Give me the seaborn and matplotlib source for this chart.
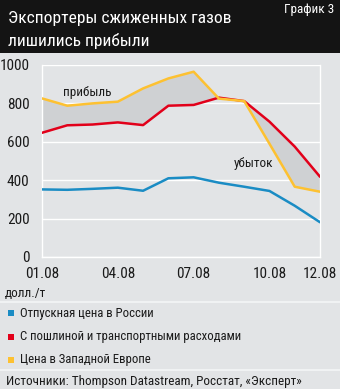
import matplotlib
matplotlib.use("Agg")
import matplotlib.pyplot as plt
from matplotlib import font_manager
import seaborn as sns
import pandas as pd

# Monthly prices, USD per tonne
months = ["01.08", "02.08", "03.08", "04.08", "05.08", "06.08",
          "07.08", "08.08", "09.08", "10.08", "11.08", "12.08"]
russia = [352, 350, 355, 361, 345, 410, 415, 387, 366, 344, 267, 181]
with_duty = [647, 686, 690, 701, 687, 788, 792, 830, 812, 705, 575, 418]
west_europe = [826, 788, 800, 809, 878, 930, 965, 825, 812, 590, 366, 340]
tick_labels = ["01.08", "04.08", "07.08", "10.08", "12.08"]
tick_index = [0, 3, 6, 9, 11]
series_names = ["Отпускная цена в России",
                "С пошлиной и транспортными расходами",
                "Цена в Западной Европе"]

BG = "#e2e4e6"
BLUE = "#1a8cc4"
RED = "#e2001a"
YELLOW = "#fdc131"
FILL = "#cfd1d3"
INK = "#1a1a1a"

sns.set_theme(style="white")
installed = {f.name for f in font_manager.fontManager.ttflist}
families = [f for f in ["Roboto Condensed", "Fira Sans Condensed", "Archivo Narrow"]
            if f in installed] + ["DejaVu Sans"]
plt.rcParams["font.family"] = families

df = pd.DataFrame({
    "x": list(range(len(months))) * 3,
    "value": russia + with_duty + west_europe,
    "series": [series_names[0]] * 12 + [series_names[1]] * 12 + [series_names[2]] * 12,
})

fig = plt.figure(figsize=(3.4, 3.89), dpi=100)
fig.patch.set_facecolor(BG)

# Title bar
fig.patches.append(plt.Rectangle((0, 1 - 53 / 389), 1, 53 / 389, transform=fig.transFigure,
                                 facecolor="#141414", edgecolor="none", zorder=0))
fig.text(8 / 340, 1 - 23 / 389, "Экспортеры сжиженных газов", color="white",
         fontsize=12.6, va="baseline", ha="left")
fig.text(8 / 340, 1 - 46 / 389, "лишились прибыли", color="white",
         fontsize=12.6, va="baseline", ha="left")
fig.text(334 / 340, 1 - 13 / 389, "График 3", color="white",
         fontsize=9.5, va="baseline", ha="right")

ax = fig.add_axes([42 / 340, 1 - 257 / 389, 278 / 340, 192 / 389])
ax.set_facecolor(BG)

xs = list(range(len(months)))
ax.fill_between(xs, with_duty, west_europe, color=FILL, linewidth=0, zorder=1)
sns.lineplot(data=df, x="x", y="value", hue="series",
             palette=[BLUE, RED, YELLOW], linewidth=1.8, legend=False, ax=ax, zorder=3)

ax.set_xlim(0, 11)
ax.set_ylim(0, 1000)
ax.set_yticks(range(0, 1001, 200))
ax.set_xticks(tick_index)
ax.set_xticklabels(tick_labels)
ax.set_xlabel("")
ax.set_ylabel("")
ax.grid(axis="y", color="white", linewidth=1.0, zorder=0)
ax.spines["top"].set_visible(False)
for s in ["left", "right", "bottom"]:
    ax.spines[s].set_visible(True)
    ax.spines[s].set_color("white")
    ax.spines[s].set_linewidth(1.0)
ax.tick_params(axis="x", colors="white", direction="out", length=5, width=1.0,
               labelcolor=INK, labelsize=11, pad=2)
ax.tick_params(axis="y", length=0, labelcolor=INK, labelsize=11, pad=9)

ax.text(1.8, 855, "прибыль", fontsize=9.5, color=INK, ha="center", va="center", zorder=4)
ax.text(8.35, 485, "убыток", fontsize=9.5, color=INK, ha="center", va="center", zorder=4)

fig.text(5 / 340, 1 - 297 / 389, "долл./т", fontsize=9.5, color=INK, va="baseline")

# Separator lines
for yy in [302, 370]:
    fig.add_artist(plt.Line2D([0, 1], [1 - yy / 389] * 2, transform=fig.transFigure,
                              color="#f4f5f6", linewidth=1.2))

# Legend
for i, (name, col) in enumerate(zip(series_names, [BLUE, RED, YELLOW])):
    yc = 1 - (313 + 23.5 * i) / 389
    fig.patches.append(plt.Rectangle((8 / 340, yc - 3 / 389), 6 / 340, 6 / 389,
                                     transform=fig.transFigure, facecolor=col,
                                     edgecolor="none"))
    fig.text(20 / 340, yc, name, fontsize=9.2, color=INK, va="center", ha="left")

fig.text(6 / 340, 1 - 381 / 389, "Источники: Thompson Datastream, Росстат, «Эксперт»",
         fontsize=9.5, color=INK, va="center", ha="left")

fig.savefig("out.png", dpi=100, facecolor=BG)
